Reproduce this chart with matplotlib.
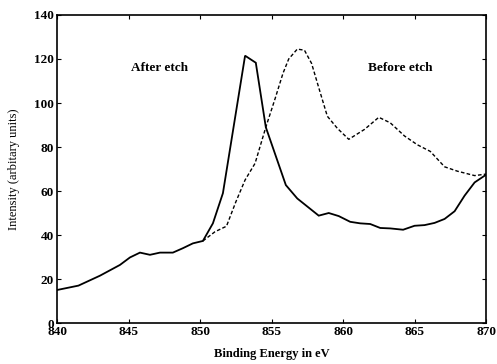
import matplotlib
matplotlib.use("Agg")
import matplotlib.pyplot as plt

after_x = [840.0, 841.5, 843.0, 844.4, 845.1, 845.8, 846.5, 847.2, 848.1, 848.8,
           849.5, 850.2, 850.9, 851.6, 853.15, 853.9, 854.6, 856.0, 856.8, 858.3,
           859.0, 859.7, 860.5, 861.2, 861.9, 862.6, 863.3, 864.2, 865.0, 865.7,
           866.4, 867.1, 867.8, 868.5, 869.2, 870.0]
after_y = [15.0, 17.0, 21.5, 26.4, 29.8, 32.0, 31.0, 32.0, 32.0, 34.0,
           36.2, 37.3, 45.3, 59.0, 121.5, 118.3, 89.0, 62.7, 56.6, 48.8,
           50.0, 48.6, 46.0, 45.3, 45.0, 43.2, 43.0, 42.4, 44.2, 44.5,
           45.5, 47.3, 50.8, 57.9, 63.9, 67.4]

before_x = [850.2, 851.05, 851.85, 852.5, 853.15, 853.85, 854.6, 855.25, 855.8, 856.2,
            856.8, 857.3, 857.8, 858.3, 858.9, 859.6, 860.4, 861.5, 862.5, 863.3,
            864.3, 865.2, 866.1, 867.1, 868.0, 869.2, 870.0]
before_y = [37.3, 41.5, 44.0, 55.0, 65.0, 72.6, 89.0, 102.0, 113.5, 120.0,
            124.5, 124.0, 118.0, 107.0, 94.0, 88.5, 83.5, 88.0, 93.5, 91.0,
            85.0, 81.0, 78.0, 71.0, 69.0, 67.0, 67.7]

xticks = [840, 845, 850, 855, 860, 865, 870]
yticks = [0, 20, 40, 60, 80, 100, 120, 140]

plt.rcParams['font.family'] = ['Liberation Serif', 'DejaVu Serif']

fig = plt.figure(figsize=(4.97, 3.64), dpi=100)
ax = fig.add_axes([0.1147, 0.1126, 0.978 - 0.1147, 0.9588 - 0.1126])

ax.plot(after_x, after_y, color='black', lw=1.3, solid_joinstyle='miter')
ax.plot(before_x, before_y, color='black', lw=1.0, linestyle=(0, (2.6, 1.6)))

ax.set_xlim(840, 870)
ax.set_ylim(0, 140)
ax.set_xticks(xticks)
ax.set_yticks(yticks)
ax.tick_params(direction='in', top=True, right=True, length=3, width=0.8,
               labelsize=9.5, pad=2)
for lab in ax.get_xticklabels() + ax.get_yticklabels():
    lab.set_fontweight('bold')
for s in ax.spines.values():
    s.set_linewidth(1.2)

ax.text(847.2, 116, 'After etch', ha='center', va='center', fontsize=9.5, fontweight='bold')
ax.text(864.0, 116, 'Before etch', ha='center', va='center', fontsize=9.5, fontweight='bold')

ax.set_xlabel('Binding Energy in eV', fontsize=9, fontweight='bold', labelpad=7)
ax.set_ylabel('Intensity (arbitary units)', fontsize=9, labelpad=10)

fig.savefig('out.png', dpi=100)
